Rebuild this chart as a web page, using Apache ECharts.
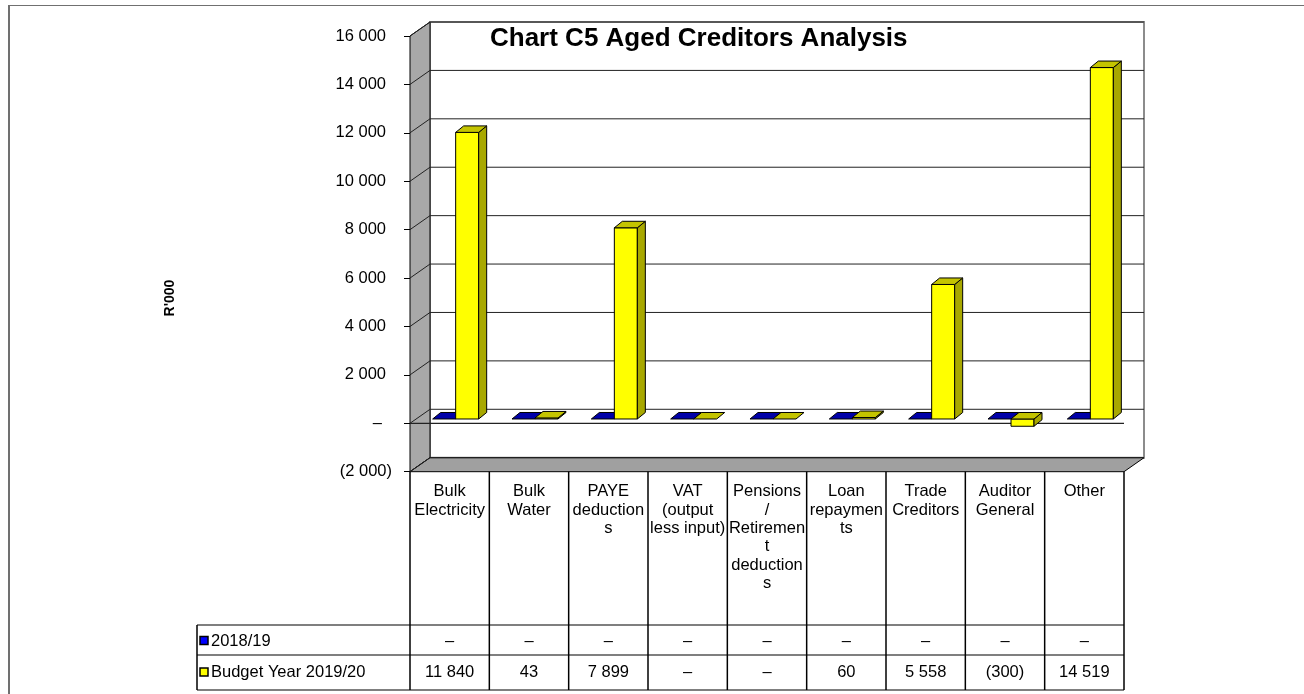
<!DOCTYPE html>
<html>
<head>
<meta charset="utf-8">
<title>Chart C5 Aged Creditors Analysis</title>
<script src="https://cdn.jsdelivr.net/npm/echarts@6/dist/echarts.min.js"></script>
<style>
  html, body { margin: 0; padding: 0; background: #fff; }
  #chart { width: 1304px; height: 694px; }
</style>
</head>
<body>
<div id="chart"></div>
<script>
// category labels as wrapped in the data table
const categories = [
  'Bulk\nElectricity',
  'Bulk\nWater',
  'PAYE\ndeduction\ns',
  'VAT\n(output\nless input)',
  'Pensions\n/\nRetiremen\nt\ndeduction\ns',
  'Loan\nrepaymen\nts',
  'Trade\nCreditors',
  'Auditor\nGeneral',
  'Other'
]
const seriesNames = ['2018/19', 'Budget Year 2019/20']
const prior = [0, 0, 0, 0, 0, 0, 0, 0, 0]
const budget = [11840, 43, 7899, 0, 0, 60, 5558, -300, 14519]

const FONT = '"Liberation Sans", Arial, sans-serif'
const GRID = { left: 410, right: 1124, top: 36, bottom: 471.7 }
const DEPTH = [20, 14]        // back wall offset
const BAR_SHIFT = [6, 4.3]    // bars sit part way into the depth
const BAR_DEPTH = [8, 6.5]

const colors = [
  { front: '#0000CC', side: '#000080', top: '#0000A8', legend: '#0000FF' },
  { front: '#FFFF00', side: '#A8A800', top: '#C4C400', legend: '#FFFF00' }
]

// 11840 -> "11 840", 0 -> "–", -300 -> "(300)"
function fmt(v) {
  if (v === 0) return '–'
  const s = Math.abs(v).toString().replace(/\B(?=(\d{3})+(?!\d))/g, ' ')
  return v < 0 ? '(' + s + ')' : s
}

function makeRender(seriesIdx) {
  const c = colors[seriesIdx]
  return function (params, api) {
    const i = api.value(0)
    const v = api.value(1)
    const zero = api.coord([i, 0])
    const end = api.coord([i, v])
    const band = api.size([1, 0])[0]
    const w = band * 0.29
    const x0 = zero[0] - w + seriesIdx * w + BAR_SHIFT[0]
    const x1 = x0 + w
    const yZero = zero[1] - BAR_SHIFT[1]
    const yEnd = end[1] - BAR_SHIFT[1]
    const yTop = Math.min(yZero, yEnd)
    const yBot = Math.max(yZero, yEnd)
    const dx = BAR_DEPTH[0]
    const dy = BAR_DEPTH[1]
    const line = { stroke: '#000', lineWidth: 1 }
    const children = []
    if (yBot - yTop > 1) {
      children.push({
        type: 'rect',
        shape: { x: x0, y: yTop, width: w, height: yBot - yTop },
        style: Object.assign({ fill: c.front }, line)
      })
      children.push({
        type: 'polygon',
        shape: { points: [[x1, yTop], [x1 + dx, yTop - dy], [x1 + dx, yBot - dy], [x1, yBot]] },
        style: Object.assign({ fill: c.side }, line)
      })
    }
    children.push({
      type: 'polygon',
      shape: { points: [[x0, yTop], [x1, yTop], [x1 + dx, yTop - dy], [x0 + dx, yTop - dy]] },
      style: Object.assign({ fill: c.top }, line)
    })
    return { type: 'group', children: children }
  }
}

const chart = echarts.init(document.getElementById('chart'))

chart.setOption({
  animation: false,
  backgroundColor: '#fff',
  title: {
    text: 'Chart C5 Aged Creditors Analysis',
    left: 490,
    top: 26,
    padding: 0,
    textStyle: { fontFamily: FONT, fontSize: 26, fontWeight: 'bold', color: '#000' }
  },
  grid: {
    left: GRID.left,
    right: 1304 - GRID.right,
    top: GRID.top,
    bottom: 694 - GRID.bottom
  },
  xAxis: {
    type: 'category',
    data: categories,
    axisLine: { show: false },
    axisTick: { show: false },
    axisLabel: { show: false },
    splitLine: { show: false }
  },
  yAxis: {
    type: 'value',
    min: -2000,
    max: 16000,
    interval: 2000,
    axisLine: { show: true, lineStyle: { color: '#000', width: 1 } },
    axisTick: { show: true, length: 6, lineStyle: { color: '#000' } },
    splitLine: { show: false },
    axisLabel: {
      margin: 18,
      formatter: function (v) {
        if (v === 0) return '{z|–}'
        if (v < 0) return '{n|' + fmt(v) + '}'
        return '{p|' + fmt(v) + '}'
      },
      rich: {
        p: { fontFamily: FONT, fontSize: 16.5, color: '#000', padding: [0, 6, 0, 0] },
        z: { fontFamily: FONT, fontSize: 16.5, color: '#000', padding: [0, 10, 0, 0] },
        n: { fontFamily: FONT, fontSize: 16.5, color: '#000' }
      }
    }
  },
  series: [
    {
      type: 'custom',
      name: seriesNames[0],
      renderItem: makeRender(0),
      encode: { x: 0, y: 1 },
      data: prior.map((v, i) => [i, v]),
      z: 3
    },
    {
      type: 'custom',
      name: seriesNames[1],
      renderItem: makeRender(1),
      encode: { x: 0, y: 1 },
      data: budget.map((v, i) => [i, v]),
      z: 4
    }
  ]
})

// walls, floor, gridlines and the data table
function buildGraphic() {
  const els = []
  const dx = DEPTH[0]
  const dy = DEPTH[1]
  const L = GRID.left
  const R = GRID.right
  const yAt = v => chart.convertToPixel({ yAxisIndex: 0 }, v)
  const yMax = yAt(16000)
  const yMin = yAt(-2000)
  const dark = '#000'

  // back wall
  els.push({ type: 'rect', z: 0, shape: { x: L + dx, y: yMax - dy, width: R - L, height: yMin - yMax },
    style: { fill: '#fff', stroke: '#8c8c8c', lineWidth: 2 } })
  // left wall
  els.push({ type: 'polygon', z: 1, shape: { points: [[L, yMax], [L + dx, yMax - dy], [L + dx, yMin - dy], [L, yMin]] },
    style: { fill: '#A8A8A8', stroke: dark, lineWidth: 1 } })
  // floor
  els.push({ type: 'polygon', z: 1, shape: { points: [[L, yMin], [L + dx, yMin - dy], [R + dx, yMin - dy], [R, yMin]] },
    style: { fill: '#A0A0A0', stroke: dark, lineWidth: 1 } })

  // gridlines on the back wall and left wall
  for (let v = -2000; v <= 16000; v += 2000) {
    const y = yAt(v)
    els.push({ type: 'polyline', z: 2, shape: { points: [[L, y], [L + dx, y - dy], [R + dx, y - dy]] },
      style: { stroke: '#222', lineWidth: 1, fill: null } })
  }
  // front edge of the zero plane
  const y0 = yAt(0)
  els.push({ type: 'line', z: 2, shape: { x1: L, y1: y0, x2: R, y2: y0 }, style: { stroke: '#222', lineWidth: 1.2 } })

  // data table
  const band = (R - L) / categories.length
  const tblTop = yMin
  const row1 = 625
  const row2 = 655
  const tblBot = 690
  const tblLeft = 197
  const txt = { fontFamily: FONT, fontSize: 16.5, fill: '#000' }

  for (let k = 0; k <= categories.length; k++) {
    const x = L + k * band
    els.push({ type: 'line', z: 5, shape: { x1: x, y1: tblTop, x2: x, y2: tblBot }, style: { stroke: dark, lineWidth: 1.5 } })
  }
  els.push({ type: 'line', z: 5, shape: { x1: tblLeft, y1: row1, x2: tblLeft, y2: tblBot }, style: { stroke: dark, lineWidth: 1.5 } })
  ;[row1, row2, tblBot].forEach(y => {
    els.push({ type: 'line', z: 5, shape: { x1: tblLeft, y1: y, x2: R, y2: y }, style: { stroke: dark, lineWidth: 1.2 } })
  })

  categories.forEach((c, k) => {
    const cx = L + (k + 0.5) * band
    els.push({ type: 'text', z: 6, x: cx, y: tblTop + 11,
      style: Object.assign({ text: c, align: 'center', verticalAlign: 'top', lineHeight: 18.3 }, txt) })
    els.push({ type: 'text', z: 6, x: cx, y: (row1 + row2) / 2 + 1,
      style: Object.assign({ text: fmt(prior[k]), align: 'center', verticalAlign: 'middle' }, txt) })
    els.push({ type: 'text', z: 6, x: cx, y: (row2 + tblBot) / 2,
      style: Object.assign({ text: fmt(budget[k]), align: 'center', verticalAlign: 'middle' }, txt) })
  })

  // legend keys in the table
  const rowsMid = [(row1 + row2) / 2 + 1, (row2 + tblBot) / 2]
  seriesNames.forEach((n, s) => {
    const cy = rowsMid[s]
    els.push({ type: 'rect', z: 6, shape: { x: tblLeft + 3, y: cy - 4.5, width: 8, height: 8 },
      style: { fill: colors[s].legend, stroke: dark, lineWidth: 1.5 } })
    els.push({ type: 'text', z: 6, x: tblLeft + 14, y: cy,
      style: Object.assign({ text: n, align: 'left', verticalAlign: 'middle' }, txt) })
  })

  // axis title
  els.push({ type: 'text', z: 6, x: 170, y: 298, rotation: Math.PI / 2,
    style: { text: "R'000", fontFamily: FONT, fontSize: 14, fontWeight: 'bold', fill: '#000', align: 'center', verticalAlign: 'middle' } })

  // outer frame (top and left edges visible)
  els.push({ type: 'line', z: 6, shape: { x1: 8, y1: 5.5, x2: 1304, y2: 5.5 }, style: { stroke: '#707070', lineWidth: 1 } })
  els.push({ type: 'line', z: 6, shape: { x1: 9, y1: 5, x2: 9, y2: 694 }, style: { stroke: '#707070', lineWidth: 2 } })

  return els
}

chart.setOption({ graphic: { elements: buildGraphic() } })
</script>
</body>
</html>
